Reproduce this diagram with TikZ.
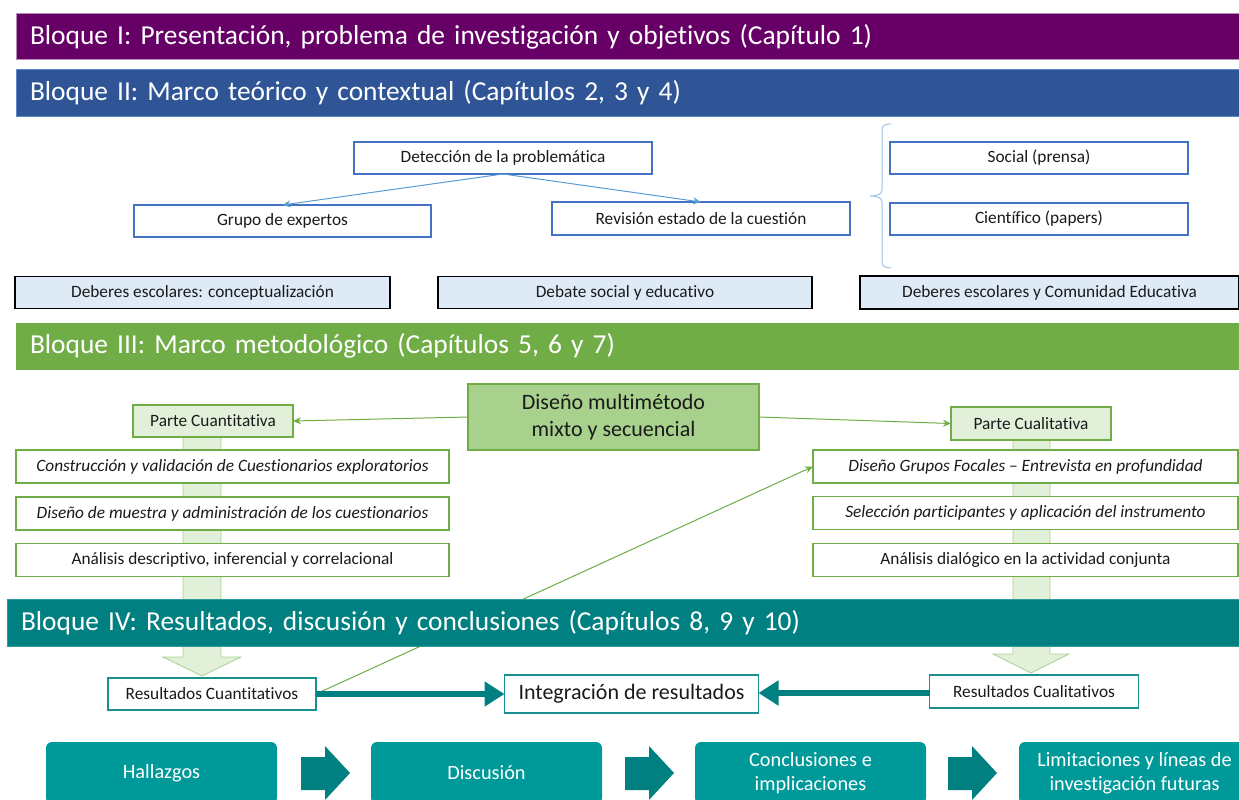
\documentclass[tikz,border=0pt]{standalone}
\usepackage{fontspec}
\setmainfont{Carlito}[Ligatures=NoCommon]
\usetikzlibrary{arrows.meta}
\definecolor{cPurple}{HTML}{660066}
\definecolor{cPurpleB}{HTML}{B58CB5}
\definecolor{cBlueBar}{HTML}{2F5597}
\definecolor{cBlueBarB}{HTML}{5B86CC}
\definecolor{cGreenBar}{HTML}{70AD47}
\definecolor{cTealBar}{HTML}{008080}
\definecolor{cTealBarB}{HTML}{2A9A9A}
\definecolor{cBlueLine}{HTML}{4472C4}
\definecolor{cArrowBlue}{HTML}{5B9BD5}
\definecolor{cBrace}{HTML}{9DC3E6}
\definecolor{cLightBlue}{HTML}{DEEBF7}
\definecolor{cGreen}{HTML}{70AD47}
\definecolor{cPaleGreen}{HTML}{E2F0D9}
\definecolor{cMidGreen}{HTML}{A9D18E}
\definecolor{cTealLine}{HTML}{1A9090}
\definecolor{cTealBox}{HTML}{009999}
\definecolor{cTealDark}{HTML}{008080}
\definecolor{cText}{HTML}{1A1A1A}
\tikzset{
  base/.style={inner sep=0pt, outer sep=0pt, font=\fontsize{17.3}{20}\selectfont, text=cText, align=center},
  itext/.style={font=\fontsize{17.3}{20}\selectfont\itshape},
  bluebox/.style={base, draw=cBlueLine, line width=1.2pt, fill=white},
  debox/.style={base, draw=black, line width=1.2pt, fill=cLightBlue},
  greenbox/.style={base, draw=cGreen, line width=1.2pt, fill=white},
  partebox/.style={greenbox, fill=cPaleGreen},
  tealbox/.style={base, draw=cTealLine, line width=1.2pt, fill=white},
  finbox/.style={base, fill=cTealBox, rounded corners=6pt, text=white, font=\fontsize{20.3}{24}\selectfont, minimum width=231pt, minimum height=62pt},
  barbox/.style={inner xsep=14pt, inner ysep=0pt, outer sep=0pt, align=left, text=white, font=\fontsize{27.4}{32}\selectfont, line width=1pt},
  thinblue/.style={draw=cArrowBlue, line width=1pt, -{Stealth[length=8pt,width=7pt]}},
  thingreen/.style={draw=cGreen, line width=1pt, -{Stealth[length=8pt,width=7pt]}},
  fatarrow/.style={draw=cTealDark, line width=6pt, -{Triangle[length=20pt,width=24pt]}},
  band/.style={fill=cPaleGreen, draw=cMidGreen, line width=0.8pt},
  chev/.style={fill=cTealDark},
}
\begin{document}
\begin{tikzpicture}[x=1pt,y=-1pt]
\useasboundingbox (0,0) rectangle (1239,800);
\clip (0,0) rectangle (1239,800);

% Bloque I and II bars
\node[barbox, fill=cPurple, draw=cPurpleB, minimum height=46pt, text width=1195pt] (b1) at (627.5,37) {Bloque I: Presentación, problema de investigación y objetivos (Capítulo 1)};
\node[barbox, fill=cBlueBar, draw=cBlueBarB, minimum height=46pt, text width=1195pt] (b2) at (627.5,93) {Bloque II: Marco teórico y contextual (Capítulos 2, 3 y 4)};

% Bloque II content
\node[bluebox, minimum width=298pt, minimum height=32pt] (det) at (503,158) {Detección de la problemática};
\node[bluebox, minimum width=297pt, minimum height=32pt] (gru) at (282.5,221) {Grupo de expertos};
\node[bluebox, minimum width=298pt, minimum height=33pt] (rev) at (701,218.5) {Revisión estado de la cuestión};
\draw[thinblue] (det.south) -- (gru.north);
\draw[thinblue] (det.south) -- (rev.north);

\draw[draw=cBrace, line width=1pt] (891,124) .. controls (885,124) and (882,125) .. (882,130) -- (882,190) .. controls (882,194) and (878,196) .. (870,196) .. controls (878,196) and (882,198) .. (882,202) -- (882,262) .. controls (882,266) and (885,268) .. (891,268);
\node[bluebox, minimum width=298pt, minimum height=32pt] (soc) at (1039,158) {Social (prensa)};
\node[bluebox, minimum width=298pt, minimum height=32pt] (cie) at (1039,219) {Científico (papers)};

\node[debox, minimum width=375pt, minimum height=32pt] (d1) at (202.5,292.5) {Deberes escolares: conceptualización};
\node[debox, minimum width=374pt, minimum height=32pt] (d2) at (625,292.5) {Debate social y educativo};
\node[debox, minimum width=379pt, minimum height=33pt] (d3) at (1049.5,292.5) {Deberes escolares y Comunidad Educativa};

% Bloque III
\node[barbox, fill=cGreenBar, draw=cGreenBar, minimum height=46pt, text width=1195pt] (b3) at (627.5,346) {Bloque III: Marco metodológico (Capítulos 5, 6 y 7)};

% bands (big down arrows)
\draw[band] (183,436) -- (183,657) -- (163,657) -- (202,676) -- (241,657) -- (221,657) -- (221,436) -- cycle;
\draw[band] (1013,440) -- (1013,654) -- (993,654) -- (1031,673) -- (1069,654) -- (1050,654) -- (1050,440) -- cycle;

\node[base, fill=cMidGreen, draw=cGreen, line width=1.2pt, minimum width=291pt, minimum height=66pt, font=\fontsize{22}{27}\selectfont] (dis) at (613.5,417) {Diseño multimétodo\\mixto y secuencial};
\node[partebox, minimum width=160pt, minimum height=32pt] (pcuant) at (213,421) {Parte Cuantitativa};
\node[partebox, minimum width=160pt, minimum height=33pt] (pcual) at (1031,423.5) {Parte Cualitativa};
\draw[thingreen] (dis.west) -- (pcuant.east);
\draw[thingreen] (dis.east) -- (pcual.west);

\node[greenbox, itext, minimum width=433pt, minimum height=33pt] (n1) at (232.5,466.5) {Construcción y validación de Cuestionarios exploratorios};
\node[greenbox, itext, minimum width=433pt, minimum height=33pt] (n2) at (232.5,513.5) {Diseño de muestra y administración de los cuestionarios};
\node[greenbox, minimum width=433pt, minimum height=33pt] (n3) at (232.5,560) {Análisis descriptivo, inferencial y correlacional};

\node[greenbox, itext, minimum width=425pt, minimum height=33pt] (q1) at (1025.5,466.5) {Diseño Grupos Focales – Entrevista en profundidad};
\node[greenbox, itext, minimum width=425pt, minimum height=33pt] (q2) at (1025.5,513) {Selección participantes y aplicación del instrumento};
\node[greenbox, minimum width=425pt, minimum height=33pt] (q3) at (1025.5,560) {Análisis dialógico en la actividad conjunta};

% Bloque IV results
\node[tealbox, minimum width=208pt, minimum height=32pt] (rcuant) at (212,694) {Resultados Cuantitativos};
\node[tealbox, minimum width=209pt, minimum height=33pt] (rcual) at (1034,691.5) {Resultados Cualitativos};
\node[tealbox, minimum width=254pt, minimum height=38pt, font=\fontsize{22}{26}\selectfont] (integ) at (631.5,694) {Integración de resultados};
\draw[thingreen] (rcuant.east) -- (q1.west);

\node[barbox, fill=cTealBar, draw=cTealBarB, minimum height=47pt, text width=1204pt] (b4) at (623,622.5) {Bloque IV: Resultados, discusión y conclusiones (Capítulos 8, 9 y 10)};

\draw[fatarrow] (rcuant.east) -- (integ.west);
\draw[fatarrow] (rcual.west |- 0,693) -- (integ.east |- 0,693);

% bottom row
\node[finbox] (f1) at (161.5,773) {Hallazgos};
\node[finbox] (f2) at (486.5,773) {Discusión};
\node[finbox] (f3) at (810.5,773) {Conclusiones e\\implicaciones};
\node[finbox] (f4) at (1134.5,773) {Limitaciones y líneas de\\investigación futuras};

\fill[chev] (301,757) -- (325,757) -- (325,746) -- (350,773) -- (325,800) -- (325,790) -- (301,790) -- cycle;
\fill[chev] (625,757) -- (649,757) -- (649,746) -- (674,773) -- (649,800) -- (649,790) -- (625,790) -- cycle;
\fill[chev] (948,757) -- (972,757) -- (972,746) -- (997,773) -- (972,800) -- (972,790) -- (948,790) -- cycle;
\end{tikzpicture}
\end{document}
